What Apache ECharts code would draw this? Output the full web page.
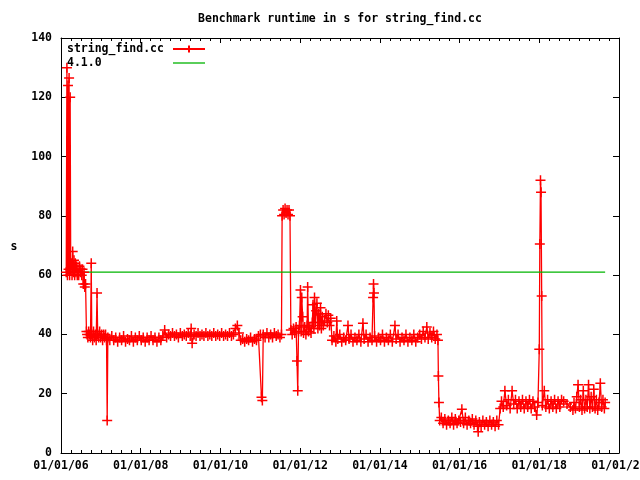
<!DOCTYPE html>
<html>
<head>
<meta charset="utf-8">
<script src="https://cdn.jsdelivr.net/npm/echarts@6/dist/echarts.min.js"></script>
<style>
  html, body { margin: 0; padding: 0; background: #fff; }
  #chart { width: 640px; height: 480px; }
</style>
</head>
<body>
<div id="chart"></div>
<script>
// benchmark runs: [date, seconds]
const runs = [
  ['2006-02-18', 61], ['2006-02-24', 130], ['2006-03-01', 60], ['2006-03-06', 124],
  ['2006-03-11', 62], ['2006-03-16', 126.5], ['2006-03-21', 60], ['2006-03-26', 120],
  ['2006-03-31', 62], ['2006-04-06', 64], ['2006-04-12', 60], ['2006-04-18', 68],
  ['2006-04-24', 61], ['2006-04-30', 65], ['2006-05-06', 60], ['2006-05-12', 64],
  ['2006-05-18', 61], ['2006-05-24', 63], ['2006-05-30', 60], ['2006-06-05', 62],
  ['2006-06-12', 60], ['2006-06-19', 63], ['2006-06-26', 61], ['2006-07-03', 62],
  ['2006-07-10', 60], ['2006-07-17', 62], ['2006-07-24', 57], ['2006-07-31', 61],
  ['2006-08-07', 56], ['2006-08-14', 57], ['2006-08-22', 41], ['2006-08-28', 40],
  ['2006-09-04', 39], ['2006-09-12', 41], ['2006-09-20', 40], ['2006-09-28', 39],
  ['2006-10-05', 64], ['2006-10-10', 40], ['2006-10-18', 38], ['2006-10-26', 41],
  ['2006-11-03', 39], ['2006-11-11', 40], ['2006-11-19', 38], ['2006-11-27', 54],
  ['2006-12-03', 40], ['2006-12-12', 39], ['2006-12-21', 41], ['2006-12-30', 39],
  ['2007-01-08', 40], ['2007-01-17', 38], ['2007-01-26', 40], ['2007-02-04', 39],
  ['2007-02-13', 40], ['2007-02-22', 38], ['2007-02-28', 11], ['2007-03-06', 39],
  ['2007-03-24', 38], ['2007-04-11', 39.5], ['2007-04-29', 38], ['2007-05-17', 39],
  ['2007-06-04', 37.5], ['2007-06-22', 39], ['2007-07-10', 38], ['2007-07-28', 39.5],
  ['2007-08-15', 37.5], ['2007-09-02', 38.5], ['2007-09-20', 38], ['2007-10-08', 39.5],
  ['2007-10-26', 37.5], ['2007-11-13', 39], ['2007-12-01', 38], ['2007-12-19', 39.5],
  ['2008-01-06', 38], ['2008-01-24', 39], ['2008-02-11', 37.5], ['2008-02-29', 39],
  ['2008-03-18', 38], ['2008-04-05', 39.5], ['2008-04-23', 38], ['2008-05-11', 39],
  ['2008-05-29', 37.5], ['2008-06-16', 39], ['2008-07-04', 38], ['2008-07-22', 39.5],
  ['2008-08-08', 41.5], ['2008-08-26', 39], ['2008-09-13', 40], ['2008-10-01', 39.5],
  ['2008-10-19', 40.5], ['2008-11-06', 39.5], ['2008-11-24', 40], ['2008-12-12', 39],
  ['2008-12-30', 40.5], ['2009-01-17', 39.5], ['2009-02-04', 40], ['2009-02-22', 39.5],
  ['2009-03-12', 40.5], ['2009-03-30', 39.5], ['2009-04-08', 42], ['2009-04-17', 37],
  ['2009-05-05', 40], ['2009-05-23', 39.5], ['2009-06-10', 40.5], ['2009-06-28', 39.5],
  ['2009-07-16', 40], ['2009-08-03', 39.5], ['2009-08-21', 40.5], ['2009-09-08', 39.5],
  ['2009-09-26', 40], ['2009-10-14', 39.5], ['2009-11-01', 40.5], ['2009-11-19', 39.5],
  ['2009-12-07', 40], ['2009-12-25', 39.5], ['2010-01-12', 40.5], ['2010-01-30', 39.5],
  ['2010-02-17', 40], ['2010-03-07', 39.5], ['2010-03-25', 40.5], ['2010-04-12', 39.5],
  ['2010-04-30', 40], ['2010-05-18', 42], ['2010-06-05', 43], ['2010-06-20', 40.5],
  ['2010-07-06', 38], ['2010-07-24', 38.5], ['2010-08-11', 37.5], ['2010-08-29', 38.5],
  ['2010-09-16', 38], ['2010-10-04', 39], ['2010-10-22', 37.5], ['2010-11-09', 38.5],
  ['2010-11-27', 38], ['2010-12-15', 39.5], ['2011-01-02', 40], ['2011-01-12', 18.8],
  ['2011-01-20', 17.7], ['2011-01-28', 40], ['2011-02-14', 39], ['2011-03-03', 40.5],
  ['2011-03-20', 39], ['2011-04-06', 40], ['2011-04-23', 39], ['2011-05-10', 40.5],
  ['2011-05-27', 39.5], ['2011-06-13', 40], ['2011-06-30', 39], ['2011-07-14', 40],
  ['2011-07-20', 80], ['2011-07-29', 82], ['2011-08-07', 80.5], ['2011-08-16', 82.5],
  ['2011-08-25', 81], ['2011-09-03', 82], ['2011-09-12', 80.5], ['2011-09-21', 82],
  ['2011-09-30', 80], ['2011-10-08', 41.5], ['2011-10-20', 40], ['2011-11-01', 42],
  ['2011-11-13', 40.5], ['2011-11-25', 42.5], ['2011-12-03', 31], ['2011-12-10', 21],
  ['2011-12-17', 41], ['2011-12-26', 43], ['2012-01-04', 55], ['2012-01-10', 41],
  ['2012-01-16', 52.5], ['2012-01-24', 46], ['2012-02-01', 40.5], ['2012-02-12', 42.5],
  ['2012-02-23', 40], ['2012-03-05', 43], ['2012-03-10', 56], ['2012-03-18', 41],
  ['2012-03-30', 42.5], ['2012-04-10', 40.5], ['2012-04-22', 44], ['2012-04-28', 50],
  ['2012-05-06', 42], ['2012-05-12', 52.5], ['2012-05-20', 44], ['2012-05-27', 48],
  ['2012-06-03', 50.5], ['2012-06-12', 42], ['2012-06-20', 47], ['2012-06-28', 43],
  ['2012-07-06', 49], ['2012-07-14', 42], ['2012-07-22', 46], ['2012-08-01', 43],
  ['2012-08-12', 44.5], ['2012-08-25', 47], ['2012-09-06', 44], ['2012-09-16', 46.5],
  ['2012-09-27', 43], ['2012-10-08', 45.5], ['2012-10-20', 38], ['2012-11-06', 39.5],
  ['2012-11-24', 37.5], ['2012-12-02', 44.5], ['2012-12-12', 38.5], ['2012-12-30', 40],
  ['2013-01-17', 37.5], ['2013-02-04', 39], ['2013-02-22', 38], ['2013-03-15', 43],
  ['2013-03-25', 38.5], ['2013-04-12', 40], ['2013-04-30', 37.5], ['2013-05-18', 39],
  ['2013-06-05', 38], ['2013-06-23', 40], ['2013-07-11', 37.5], ['2013-07-30', 43.8],
  ['2013-08-10', 38.5], ['2013-08-28', 40], ['2013-09-15', 37.5], ['2013-10-03', 39],
  ['2013-10-21', 38], ['2013-10-31', 52.5], ['2013-11-04', 57], ['2013-11-08', 54],
  ['2013-11-14', 39.5], ['2013-12-02', 37.5], ['2013-12-20', 39], ['2014-01-07', 38],
  ['2014-01-25', 40], ['2014-02-12', 37.5], ['2014-03-02', 39], ['2014-03-20', 38],
  ['2014-04-07', 40], ['2014-04-25', 37.5], ['2014-05-19', 43], ['2014-05-30', 38.5],
  ['2014-06-17', 40], ['2014-07-05', 37.5], ['2014-07-23', 39], ['2014-08-10', 38],
  ['2014-08-28', 40], ['2014-09-15', 37.5], ['2014-10-03', 39], ['2014-10-21', 38],
  ['2014-11-08', 40], ['2014-11-26', 37.5], ['2014-12-14', 39], ['2015-01-01', 40],
  ['2015-01-17', 38.5], ['2015-02-02', 41], ['2015-02-18', 39], ['2015-03-07', 42.5],
  ['2015-03-20', 38.5], ['2015-04-05', 40.5], ['2015-04-21', 39], ['2015-05-07', 41],
  ['2015-05-23', 38.5], ['2015-06-08', 40], ['2015-06-17', 38], ['2015-06-21', 26],
  ['2015-06-26', 17], ['2015-07-03', 11], ['2015-07-18', 12], ['2015-08-03', 10],
  ['2015-08-19', 11.5], ['2015-09-04', 9.5], ['2015-09-20', 11], ['2015-10-06', 10],
  ['2015-10-22', 12], ['2015-11-07', 9.5], ['2015-11-23', 11.5], ['2015-12-09', 10],
  ['2015-12-25', 11], ['2016-01-10', 10.5], ['2016-01-22', 14.8], ['2016-02-07', 10],
  ['2016-02-23', 12], ['2016-03-10', 9.5], ['2016-03-26', 11], ['2016-04-11', 10],
  ['2016-04-27', 11.5], ['2016-05-13', 9.5], ['2016-05-29', 11], ['2016-06-14', 9],
  ['2016-06-20', 7.2], ['2016-07-01', 10.5], ['2016-07-17', 9], ['2016-08-02', 11],
  ['2016-08-18', 9.5], ['2016-09-03', 10.5], ['2016-09-19', 9], ['2016-10-05', 11],
  ['2016-10-21', 9.5], ['2016-11-06', 10.5], ['2016-11-22', 9], ['2016-12-08', 11],
  ['2016-12-24', 9.5], ['2017-01-08', 15], ['2017-01-20', 17.5], ['2017-02-05', 15.5],
  ['2017-02-20', 21], ['2017-03-08', 16], ['2017-03-24', 18], ['2017-04-09', 15],
  ['2017-04-27', 21], ['2017-05-12', 16.5], ['2017-05-28', 18], ['2017-06-13', 15],
  ['2017-06-29', 17.5], ['2017-07-15', 15.5], ['2017-07-31', 18], ['2017-08-16', 15],
  ['2017-09-01', 17.5], ['2017-09-17', 15.5], ['2017-10-03', 18], ['2017-10-19', 15],
  ['2017-11-04', 17.5], ['2017-11-20', 15.5], ['2017-12-08', 12.8], ['2017-12-20', 17],
  ['2018-01-01', 35], ['2018-01-06', 70.5], ['2018-01-12', 92], ['2018-01-17', 88],
  ['2018-01-23', 53], ['2018-01-29', 16], ['2018-02-16', 21], ['2018-03-02', 15.5],
  ['2018-03-18', 18], ['2018-04-03', 15], ['2018-04-19', 17.5], ['2018-05-05', 15.5],
  ['2018-05-21', 18], ['2018-06-06', 15], ['2018-06-22', 17.5], ['2018-07-08', 15.5],
  ['2018-07-24', 18], ['2018-08-12', 17.5], ['2018-09-12', 16.5], ['2018-10-12', 15.5],
  ['2018-11-05', 14.5], ['2018-11-15', 17], ['2018-11-28', 15], ['2018-12-10', 19],
  ['2018-12-22', 23], ['2019-01-03', 15.5], ['2019-01-15', 18], ['2019-01-27', 14.5],
  ['2019-02-08', 21], ['2019-02-20', 15], ['2019-03-04', 18], ['2019-03-16', 15.5],
  ['2019-03-28', 23], ['2019-04-09', 15], ['2019-04-21', 19], ['2019-05-03', 15.5],
  ['2019-05-15', 21.5], ['2019-05-27', 15], ['2019-06-08', 18], ['2019-06-20', 14.5],
  ['2019-07-02', 17], ['2019-07-14', 23.5], ['2019-07-26', 15.5], ['2019-08-07', 18],
  ['2019-08-20', 15], ['2019-08-27', 17]
]
const seriesNames = ['string_find.cc', '4.1.0']
const release410 = 61
const xTickYears = [2006, 2008, 2010, 2012, 2014, 2016, 2018, 2020]
const yTicks = [0, 20, 40, 60, 80, 100, 120, 140]

const FONT = 'DejaVu Sans Mono'
const plus = 'path://M0,5L10,5M5,0L5,10'

// date string -> fractional year, so the axis can tick every 2 years exactly
const toYear = (s) => {
  const t = Date.parse(s)
  const y = new Date(t).getUTCFullYear()
  const y0 = Date.UTC(y, 0, 1)
  const y1 = Date.UTC(y + 1, 0, 1)
  return y + (t - y0) / (y1 - y0)
}

const runData = runs.map(([d, v]) => [toYear(d), v])
const releaseData = [
  [runData[0][0], release410],
  [runData[runData.length - 1][0], release410]
]

const xMin = xTickYears[0]
const xMax = xTickYears[xTickYears.length - 1]
const xStep = xTickYears[1] - xTickYears[0]
const yMin = yTicks[0]
const yMax = yTicks[yTicks.length - 1]
const yStep = yTicks[1] - yTicks[0]

const lbl = { fontFamily: FONT, fontSize: 11.5, fontWeight: 'bold', color: '#000' }
// onZero off, otherwise the top axis gets pulled down onto y = 0
const axisLine = { show: true, onZero: false, lineStyle: { color: '#000', width: 1 } }

const xAxisBase = (pos, labels) => ({
  type: 'value', position: pos, min: xMin, max: xMax, interval: xStep,
  axisLine,
  axisTick: { show: true, inside: true, length: 5, lineStyle: { color: '#000' } },
  minorTick: { show: true, splitNumber: 8, length: 3, lineStyle: { color: '#000' } },
  splitLine: { show: false },
  axisLabel: {
    show: labels, ...lbl, margin: 7, showMinLabel: true, showMaxLabel: true,
    hideOverlap: false,
    formatter: (v) => '01/01/' + String(v).slice(2)
  }
})

const yAxisBase = (pos, labels) => ({
  type: 'value', position: pos, min: yMin, max: yMax, interval: yStep,
  axisLine,
  axisTick: { show: true, inside: true, length: 6, lineStyle: { color: '#000' } },
  splitLine: { show: false },
  axisLabel: { show: labels, ...lbl, margin: 9 }
})

const chart = echarts.init(document.getElementById('chart'), null, { renderer: 'canvas' })

chart.setOption({
  animation: false,
  backgroundColor: '#fff',
  title: {
    text: 'Benchmark runtime in s for string_find.cc',
    left: 340, top: 13, padding: 0, textAlign: 'center',
    textStyle: { ...lbl }
  },
  legend: {
    data: [
      { name: seriesNames[0] },
      { name: seriesNames[1], icon: 'path://M0,0L32,0L32,1.3L0,1.3Z' }
    ],
    orient: 'vertical', align: 'right',
    left: 67, top: 43, padding: 0,
    itemWidth: 32, itemHeight: 9, itemGap: 2,
    selectedMode: false,
    formatter: '{a|{name}}',
    textStyle: {
      ...lbl,
      rich: { a: { ...lbl, width: 101, align: 'left', lineHeight: 14 } }
    }
  },
  grid: { left: 61, right: 21, top: 38, bottom: 27, outerBoundsMode: 'none', containLabel: false },
  xAxis: [xAxisBase('bottom', true), xAxisBase('top', false)],
  yAxis: [yAxisBase('left', true), yAxisBase('right', false)],
  graphic: [{
    type: 'text', x: 14, y: 247,
    style: { text: 's', font: 'bold 11.5px "' + FONT + '"', fill: '#000', align: 'center', verticalAlign: 'middle' }
  }],
  series: [
    {
      name: seriesNames[0],
      type: 'line',
      data: runData,
      symbol: plus, symbolSize: 10,
      showSymbol: true, showAllSymbol: true,
      lineStyle: { color: '#ff0000', width: 1.3 },
      itemStyle: { color: '#ff0000', borderColor: '#ff0000', borderWidth: 1.5 },
      emphasis: { disabled: true }
    },
    {
      name: seriesNames[1],
      type: 'line',
      data: releaseData,
      symbol: 'none',
      lineStyle: { color: '#00b400', width: 1.3 },
      itemStyle: { color: '#00b400' },
      emphasis: { disabled: true }
    }
  ]
})
</script>
</body>
</html>
